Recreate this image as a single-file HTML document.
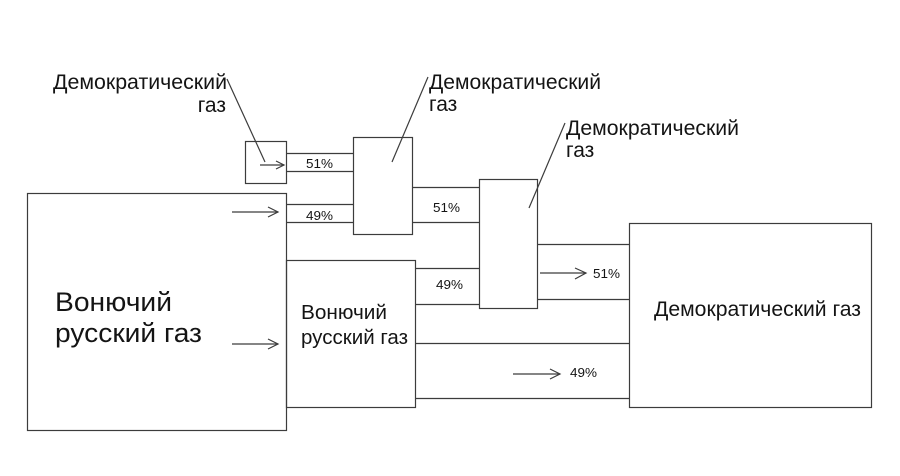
<!DOCTYPE html>
<html>
<head>
<meta charset="utf-8">
<style>
  html,body{margin:0;padding:0;background:#fff;}
  svg{display:block;}
  text{font-family:"Liberation Sans","DejaVu Sans",sans-serif;fill:#141414;}
</style>
</head>
<body>
<svg width="900" height="476" viewBox="0 0 900 476" xmlns="http://www.w3.org/2000/svg">
  <rect x="0" y="0" width="900" height="476" fill="#fff"/>
  <g fill="none" stroke="#3c3c3c" stroke-width="1.2">
    <!-- boxes -->
    <rect x="245.5" y="141.5" width="41" height="42"/>
    <rect x="27.5" y="193.5" width="259" height="237"/>
    <rect x="353.5" y="137.5" width="59" height="97"/>
    <rect x="479.5" y="179.5" width="58" height="129"/>
    <rect x="286.5" y="260.5" width="129" height="147"/>
    <rect x="629.5" y="223.5" width="242" height="184"/>
    <!-- pipes -->
    <line x1="286.5" y1="153.5" x2="353.5" y2="153.5"/>
    <line x1="286.5" y1="171.5" x2="353.5" y2="171.5"/>
    <line x1="286.5" y1="204.5" x2="353.5" y2="204.5"/>
    <line x1="286.5" y1="222.5" x2="353.5" y2="222.5"/>
    <line x1="412.5" y1="187.5" x2="479.5" y2="187.5"/>
    <line x1="412.5" y1="222.5" x2="479.5" y2="222.5"/>
    <line x1="415.5" y1="268.5" x2="479.5" y2="268.5"/>
    <line x1="415.5" y1="304.5" x2="479.5" y2="304.5"/>
    <line x1="537.5" y1="244.5" x2="629.5" y2="244.5"/>
    <line x1="537.5" y1="299.5" x2="629.5" y2="299.5"/>
    <line x1="415.5" y1="343.5" x2="629.5" y2="343.5"/>
    <line x1="415.5" y1="398.5" x2="629.5" y2="398.5"/>
    <!-- leaders -->
    <line x1="227" y1="79" x2="265" y2="162"/>
    <line x1="428" y1="77" x2="392" y2="162"/>
    <line x1="565" y1="123" x2="529" y2="208"/>
    <!-- arrows -->
    <line x1="260" y1="165" x2="284" y2="165"/>
    <polyline points="276,161 284,165 276,169"/>
    <line x1="232" y1="212" x2="278" y2="212"/>
    <polyline points="268,207 278,212 268,217"/>
    <line x1="232" y1="344" x2="278" y2="344"/>
    <polyline points="268,339 278,344 268,349"/>
    <line x1="540" y1="273" x2="586" y2="273"/>
    <polyline points="575,268 586,273 575,279"/>
    <line x1="513" y1="374" x2="560" y2="374"/>
    <polyline points="550,369 560,374 550,379"/>
  </g>

  <!-- callout labels -->
  <text x="53" y="89" font-size="21" textLength="174" lengthAdjust="spacingAndGlyphs">Демократический</text>
  <text x="226" y="112" font-size="21" text-anchor="end">газ</text>
  <text x="429" y="89" font-size="21" textLength="172" lengthAdjust="spacingAndGlyphs">Демократический</text>
  <text x="429" y="111" font-size="21">газ</text>
  <text x="566" y="135" font-size="21" textLength="173" lengthAdjust="spacingAndGlyphs">Демократический</text>
  <text x="566" y="157" font-size="21">газ</text>

  <!-- box texts -->
  <text x="55" y="311" font-size="27" textLength="117" lengthAdjust="spacingAndGlyphs">Вонючий</text>
  <text x="55" y="342" font-size="27" textLength="147" lengthAdjust="spacingAndGlyphs">русский газ</text>
  <text x="301" y="319" font-size="20" textLength="86" lengthAdjust="spacingAndGlyphs">Вонючий</text>
  <text x="301" y="344" font-size="20" textLength="107" lengthAdjust="spacingAndGlyphs">русский газ</text>
  <text x="654" y="316" font-size="21" textLength="207" lengthAdjust="spacingAndGlyphs">Демократический газ</text>

  <!-- percentages -->
  <text x="306" y="168" font-size="13" textLength="27" lengthAdjust="spacingAndGlyphs">51%</text>
  <text x="306" y="220" font-size="13" textLength="27" lengthAdjust="spacingAndGlyphs">49%</text>
  <text x="433" y="212" font-size="13" textLength="27" lengthAdjust="spacingAndGlyphs">51%</text>
  <text x="436" y="289" font-size="13" textLength="27" lengthAdjust="spacingAndGlyphs">49%</text>
  <text x="593" y="278" font-size="13" textLength="27" lengthAdjust="spacingAndGlyphs">51%</text>
  <text x="570" y="377" font-size="13" textLength="27" lengthAdjust="spacingAndGlyphs">49%</text>
</svg>
</body>
</html>
